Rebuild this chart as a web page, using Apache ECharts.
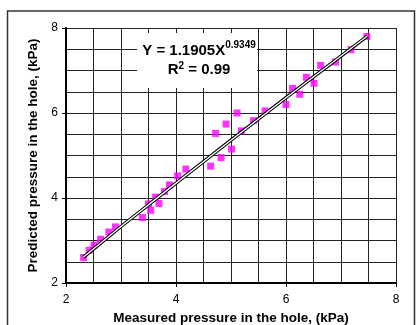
<!DOCTYPE html>
<html>
<head>
<meta charset="utf-8">
<script src="https://cdn.jsdelivr.net/npm/echarts@6/dist/echarts.min.js"></script>
<style>html,body{margin:0;padding:0;background:#fff}#c{width:416px;height:325px}</style>
</head>
<body>
<div id="c"></div>
<script>
// Measured vs predicted pressure (kPa)
var measured = [2.32,2.42,2.51,2.63,2.78,2.90,3.39,3.54,3.50,3.69,3.63,3.79,3.88,4.03,4.18,4.63,4.82,5.01,4.72,4.91,5.11,5.19,5.41,5.62,6.00,6.12,6.25,6.37,6.51,6.63,6.90,7.18,7.47];
var predicted = [2.60,2.77,2.89,3.03,3.20,3.32,3.54,3.71,3.86,3.87,4.02,4.15,4.31,4.52,4.68,4.75,4.95,5.15,5.52,5.74,6.00,5.58,5.82,6.05,6.20,6.58,6.44,6.84,6.70,7.12,7.20,7.49,7.80];
// Power trend line Y = 1.1905 X^0.9349
var fitX = [2.32,3.0,4.0,5.0,6.0,7.0,7.48];
var fitY = [2.61,3.33,4.35,5.36,6.36,7.34,7.81];
var xTicks = [2,4,6,8];
var yTicks = [2,4,6,8];
var gridStep = 0.5;
var eqMain = 'Y = 1.1905X';
var eqExp = '0.9349';
var r2Text = '0.99';
var xTitle = 'Measured pressure in the hole, (kPa)';
var yTitle = 'Predicted pressure in the hole, (kPa)';

var pts = measured.map(function(v,i){return [v, predicted[i]];});
var fit = fitX.map(function(v,i){return [v, fitY[i]];});
var font = '"Liberation Sans", Arial, sans-serif';
var gridColor = '#222';

// grid axis: fine split lines only
function gridAxis(ticks){
  return {
    type:'value', min:ticks[0], max:ticks[ticks.length-1], interval:gridStep,
    axisLine:{show:false}, axisTick:{show:false}, axisLabel:{show:false},
    splitLine:{show:true,lineStyle:{color:gridColor,width:1}}
  };
}
// labelled axis: major ticks and labels
function mainAxis(ticks, name, isX){
  return {
    type:'value', min:ticks[0], max:ticks[ticks.length-1], interval:ticks[1]-ticks[0],
    position: isX ? 'bottom' : 'left',
    name:name, nameLocation:'middle', nameGap: isX ? 28 : 25,
    nameTextStyle:{fontFamily:font,fontWeight:'bold',fontSize:13.5,color:'#000'},
    axisLine:{show:true,onZero:false,lineStyle:{color:'#000',width:2}},
    axisTick:{show:true,inside:false,length:4,lineStyle:{color:'#000',width:1}},
    axisLabel:{fontFamily:font,fontSize:12,color:'#000',margin: isX ? 11 : 8},
    splitLine:{show:false}
  };
}

var chart = echarts.init(document.getElementById('c'), null, {renderer:'canvas'});
chart.setOption({
  animation:false,
  backgroundColor:'#fff',
  grid:{left:66, top:28, width:330, height:255, containLabel:false, outerBoundsMode:'none'},
  xAxis:[mainAxis(xTicks, xTitle, true), Object.assign(gridAxis(xTicks),{position:'top'})],
  yAxis:[mainAxis(yTicks, yTitle, false), Object.assign(gridAxis(yTicks),{position:'right'})],
  series:[
    {type:'line', data:fit, symbol:'none', smooth:false, z:3,
     lineStyle:{color:'#000', width:3.4}},
    {type:'line', data:fit, symbol:'none', smooth:false, z:4,
     lineStyle:{color:'#fff', width:1.3}},
    {type:'scatter', data:pts, symbol:'rect', symbolSize:7, z:2,
     itemStyle:{color:'#ff00ff'}}
  ],
  graphic:[
    {type:'rect', shape:{x:7.5,y:11,width:407,height:330}, style:{fill:null,stroke:'#333',lineWidth:1.5}, z:0, silent:true},
    {type:'rect', shape:{x:137,y:33,width:120,height:55}, style:{fill:'#fff'}, z:10, silent:true},
    {type:'text', x:199, y:49, z:11, style:{
      text:'{m|'+eqMain+'}{s|'+eqExp+'}', align:'center', verticalAlign:'middle',
      rich:{
        m:{fontFamily:font,fontWeight:'bold',fontSize:15,fill:'#000',verticalAlign:'bottom'},
        s:{fontFamily:font,fontWeight:'bold',fontSize:10,fill:'#000',verticalAlign:'top',padding:[0,0,8,0]}
      }}},
    {type:'text', x:199, y:70, z:11, style:{
      text:'{m|R}{s|2}{m| = '+r2Text+'}', align:'center', verticalAlign:'middle',
      rich:{
        m:{fontFamily:font,fontWeight:'bold',fontSize:15,fill:'#000'},
        s:{fontFamily:font,fontWeight:'bold',fontSize:10,fill:'#000',padding:[0,0,8,0]}
      }}}
  ]
});
</script>
</body>
</html>
